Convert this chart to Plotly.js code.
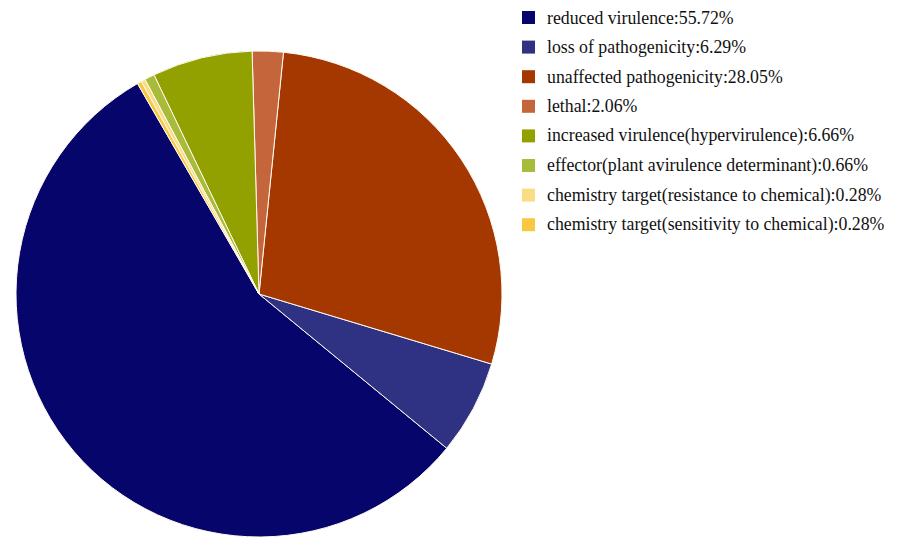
<!DOCTYPE html>
<html>
<head>
<meta charset="utf-8">
<script src="https://cdn.plot.ly/plotly-3.0.1.min.js"></script>
<style>html,body{margin:0;padding:0;background:#fff;}#chart{width:898px;height:538px;}</style>
</head>
<body>
<div id="chart"></div>
<script>
const labels = [
  "reduced virulence",
  "loss of pathogenicity",
  "unaffected pathogenicity",
  "lethal",
  "increased virulence(hypervirulence)",
  "effector(plant avirulence determinant)",
  "chemistry target(resistance to chemical)",
  "chemistry target(sensitivity to chemical)"
];
const values = [55.72, 6.29, 28.05, 2.06, 6.66, 0.66, 0.28, 0.28];
const colors = ["#05056b", "#2f3183", "#a53700", "#c5653b", "#93a100", "#a8bb3b", "#f9dd85", "#f8c843"];

const W = 898, H = 538;
const cx = 259, cy = 294, R = 243;

const pie = {
  type: "pie",
  labels: labels,
  values: values,
  sort: false,
  direction: "counterclockwise",
  rotation: -30 - 360 * values[0] / 100,
  textinfo: "none",
  hoverinfo: "label+percent",
  showlegend: false,
  marker: { colors: colors, line: { color: "#fffaf0", width: 1 } },
  domain: { x: [(cx - R) / W, (cx + R) / W], y: [1 - (cy + R) / H, 1 - (cy - R) / H] }
};

const shapes = [], annotations = [];
const y0 = 17.5, dy = 29.6;
labels.forEach((l, i) => {
  const yc = y0 + i * dy;
  shapes.push({
    type: "rect", xref: "paper", yref: "paper",
    x0: 522 / W, x1: 535 / W, y0: 1 - (yc + 6.5) / H, y1: 1 - (yc - 6.5) / H,
    fillcolor: colors[i], line: { width: 0 }
  });
  annotations.push({
    xref: "paper", yref: "paper", x: 545 / W, y: 1 - yc / H,
    xanchor: "left", yanchor: "middle", showarrow: false,
    text: l + ":" + values[i].toFixed(2) + "%",
    font: { family: "Liberation Serif", size: 17.8, color: "#111111" }
  });
});

const layout = {
  width: W, height: H,
  margin: { l: 0, r: 0, t: 0, b: 0 },
  paper_bgcolor: "#ffffff",
  showlegend: false,
  shapes: shapes,
  annotations: annotations
};

Plotly.newPlot("chart", [pie], layout, { displayModeBar: false, staticPlot: true });
</script>
</body>
</html>
